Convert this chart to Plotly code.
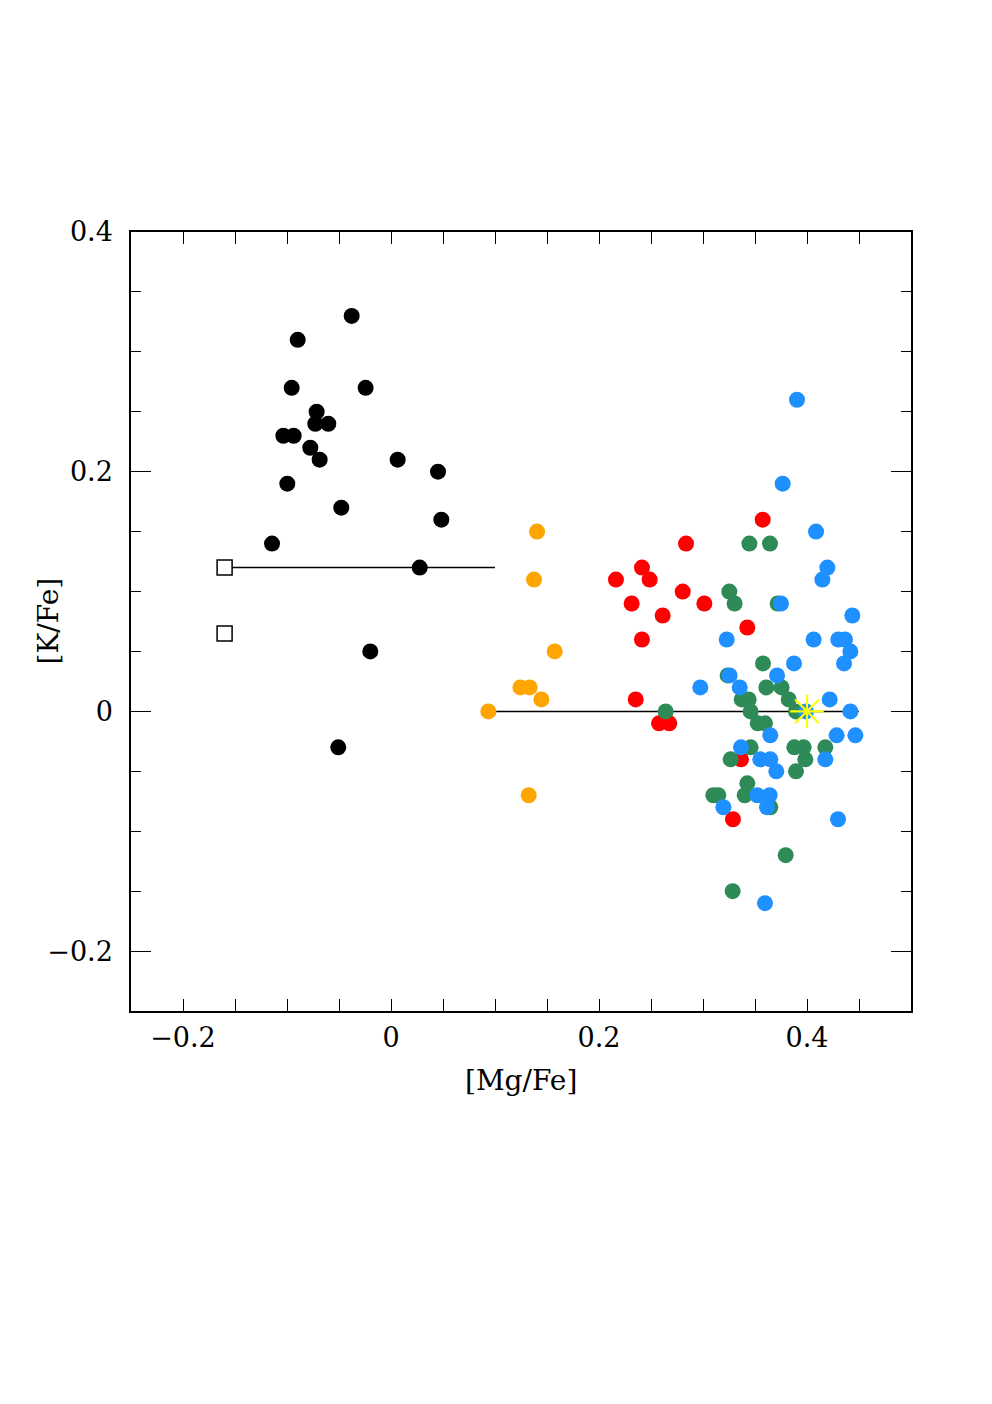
import plotly.graph_objects as go

# Black (group 1)
black_x = [-0.0378, -0.0897, -0.0955, -0.0244, -0.0715, -0.0728, -0.0603, -0.1035, -0.0936, -0.0776,
           -0.0686, 0.0064, 0.0452, -0.0997, -0.0478, 0.0484, -0.1144, 0.0276, -0.0199, -0.0507]
black_y = [0.330, 0.310, 0.270, 0.270, 0.250, 0.240, 0.240, 0.230, 0.230, 0.220,
           0.210, 0.210, 0.200, 0.190, 0.170, 0.160, 0.140, 0.120, 0.050, -0.030]

# Open squares
sq_x = [-0.160, -0.160]
sq_y = [0.120, 0.065]

# Orange
orange_x = [0.1404, 0.1375, 0.1574, 0.1244, 0.1333, 0.1446, 0.0936, 0.1324]
orange_y = [0.150, 0.110, 0.050, 0.020, 0.020, 0.010, 0.000, -0.070]

# Red
red_x = [0.2837, 0.2413, 0.2487, 0.2163, 0.2805, 0.2314, 0.3013, 0.2612, 0.2413, 0.2353,
         0.2577, 0.2676, 0.3574, 0.3426, 0.3365, 0.3288]
red_y = [0.140, 0.120, 0.110, 0.110, 0.100, 0.090, 0.090, 0.080, 0.060, 0.010,
         -0.010, -0.010, 0.160, 0.070, -0.040, -0.090]

# Green
green_x = [0.2641, 0.3446, 0.3644, 0.3253, 0.3304, 0.3718, 0.3577, 0.3237, 0.3609, 0.3756,
           0.3372, 0.3439, 0.3824, 0.3458, 0.3894, 0.3526, 0.3596, 0.3458, 0.3878, 0.3968,
           0.4176, 0.3266, 0.3984, 0.3894, 0.3426, 0.3099, 0.3147, 0.3401, 0.3647, 0.3795,
           0.3285]
green_y = [0.000, 0.140, 0.140, 0.100, 0.090, 0.090, 0.040, 0.030, 0.020, 0.020,
           0.010, 0.010, 0.010, 0.000, 0.000, -0.010, -0.010, -0.030, -0.030, -0.030,
           -0.030, -0.040, -0.040, -0.050, -0.060, -0.070, -0.070, -0.070, -0.080, -0.120,
           -0.150]

# Blue
blue_x = [0.3904, 0.3766, 0.4087, 0.4196, 0.4148, 0.3750, 0.4436, 0.3228, 0.4064, 0.4301,
          0.4365, 0.4417, 0.4356, 0.3875, 0.3256, 0.3712, 0.2974, 0.3353, 0.4218, 0.3990,
          0.4417, 0.3647, 0.4285, 0.4465, 0.3365, 0.3551, 0.3647, 0.4176, 0.3705, 0.3522,
          0.3641, 0.3615, 0.3196, 0.4298, 0.3596]
blue_y = [0.260, 0.190, 0.150, 0.120, 0.110, 0.090, 0.080, 0.060, 0.060, 0.060,
          0.060, 0.050, 0.040, 0.040, 0.030, 0.030, 0.020, 0.020, 0.010, 0.000,
          0.000, -0.020, -0.020, -0.020, -0.030, -0.040, -0.040, -0.040, -0.050, -0.070,
          -0.070, -0.080, -0.080, -0.090, -0.160]

# Reference lines
line1_x = [-0.16, 0.10]
line1_y = [0.12, 0.12]
line2_x = [0.10, 0.45]
line2_y = [0.0, 0.0]

# Sun
sun_x = [0.40]
sun_y = [0.0]

tick_vals = [-0.2, 0, 0.2, 0.4]
tick_text = ["\u22120.2", "0", "0.2", "0.4"]

FONT = "DejaVu Serif"

fig = go.Figure()

fig.add_trace(go.Scatter(x=line1_x, y=line1_y, mode="lines", line=dict(color="black", width=1.5)))
fig.add_trace(go.Scatter(x=line2_x, y=line2_y, mode="lines", line=dict(color="black", width=1.5)))


def dots(xs, ys, color):
    fig.add_trace(go.Scatter(x=xs, y=ys, mode="markers",
                             marker=dict(color=color, size=16, line=dict(width=0))))


dots(black_x, black_y, "black")
dots(orange_x, orange_y, "#FFA500")
dots(red_x, red_y, "#FF0000")
dots(green_x, green_y, "#2E8B57")
dots(blue_x, blue_y, "#1E90FF")

fig.add_trace(go.Scatter(x=sq_x, y=sq_y, mode="markers",
                         marker=dict(symbol="square", size=15, color="white",
                                     line=dict(color="black", width=1.5))))
fig.add_trace(go.Scatter(x=sun_x, y=sun_y, mode="markers",
                         marker=dict(symbol="asterisk-open", size=28, color="#FFFF00",
                                     line=dict(color="#FFFF00", width=2.2))))

fig.update_layout(
    width=992, height=1404,
    margin=dict(l=123, r=89, t=224, b=401),
    paper_bgcolor="white", plot_bgcolor="white",
    showlegend=False,
    annotations=[
        dict(text="[Mg/Fe]", xref="paper", yref="paper", x=0.5, y=-0.0886,
             xanchor="center", yanchor="middle", showarrow=False,
             font=dict(family=FONT, size=28, color="black")),
        dict(text="[K/Fe]", xref="paper", yref="paper", x=-0.1064, y=0.5,
             xanchor="center", yanchor="middle", showarrow=False, textangle=-90,
             font=dict(family=FONT, size=28, color="black")),
    ],
)
fig.update_xaxes(
    range=[-0.25, 0.5], showgrid=False, zeroline=False,
    showline=True, linecolor="black", linewidth=1.5, mirror="allticks",
    ticks="inside", ticklen=12, tickwidth=1.2, tickcolor="black",
    tickvals=tick_vals, ticktext=tick_text,
    minor=dict(ticks="inside", dtick=0.05, ticklen=12, tickwidth=1.2, tickcolor="black"),
    tickfont=dict(family=FONT, size=27, color="black"),
    ticklabelstandoff=2,
)
fig.update_yaxes(
    range=[-0.25, 0.4], showgrid=False, zeroline=False,
    showline=True, linecolor="black", linewidth=1.5, mirror="allticks",
    ticks="inside", ticklen=20, tickwidth=1.2, tickcolor="black",
    tickvals=tick_vals, ticktext=tick_text,
    minor=dict(ticks="inside", dtick=0.05, ticklen=10, tickwidth=1.2, tickcolor="black"),
    tickfont=dict(family=FONT, size=27, color="black"),
    ticklabelstandoff=11,
)

fig.write_html("out.html")
